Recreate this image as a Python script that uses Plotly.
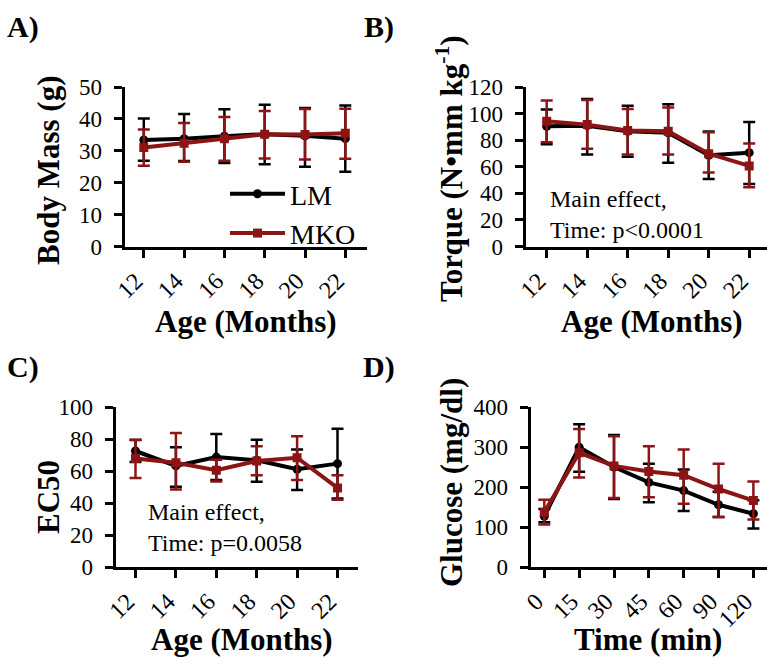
import plotly.graph_objects as go

# ---------------- data ----------------
age = ["12", "14", "16", "18", "20", "22"]
time_min = ["0", "15", "30", "45", "60", "90", "120"]

# A) Body mass (g)
bm_lm_mean = [33.4, 33.8, 34.6, 35.2, 34.7, 33.8]
bm_lm_hi = [40.1, 41.5, 43.0, 44.4, 43.4, 44.2]
bm_lm_lo = [26.9, 26.8, 26.2, 25.8, 25.0, 23.4]
bm_mko_mean = [31.0, 32.4, 33.8, 35.2, 35.1, 35.5]
bm_mko_hi = [36.7, 38.7, 40.6, 42.5, 43.1, 43.2]
bm_mko_lo = [25.3, 26.6, 26.9, 27.6, 27.3, 27.5]

# B) Torque
tq_lm_mean = [90.5, 90.9, 86.7, 85.5, 68.6, 70.6]
tq_lm_hi = [103.0, 111.0, 105.8, 107.0, 86.5, 93.7]
tq_lm_lo = [77.0, 69.3, 67.6, 63.1, 50.7, 47.0]
tq_mko_mean = [94.2, 91.7, 87.2, 86.7, 69.8, 60.6]
tq_mko_hi = [109.8, 110.3, 103.4, 104.6, 86.0, 77.5]
tq_mko_lo = [78.5, 73.5, 69.3, 69.3, 55.7, 44.5]

# C) EC50
ec_lm_mean = [72.5, 63.2, 68.7, 66.7, 61.1, 64.6]
ec_lm_hi = [79.3, 74.9, 83.1, 79.6, 73.5, 86.4]
ec_lm_lo = [65.7, 50.2, 54.3, 53.3, 48.1, 42.8]
ec_mko_mean = [67.8, 65.2, 60.5, 66.3, 68.3, 49.4]
ec_mko_hi = [79.6, 83.7, 67.0, 75.5, 81.7, 57.4]
ec_mko_lo = [55.6, 48.4, 53.5, 57.4, 54.3, 42.0]

# D) Glucose
gl_lm_mean = [127, 299.6, 250, 211.5, 191, 155.6, 133]
gl_lm_hi = [145, 357, 330, 258.4, 244, 188, 167]
gl_lm_lo = [112, 238, 170, 162, 140, 125, 96]
gl_mko_mean = [137, 285.6, 252.7, 238.7, 229.6, 195, 166]
gl_mko_hi = [168, 345, 326.7, 302, 293.8, 258.4, 214]
gl_mko_lo = [106, 224, 172.8, 174.5, 158, 125, 118.5]

# ---------------- style ----------------
W, H = 767, 659
BLACK = "#000000"
RED = "#8C1414"
FONT = "Liberation Serif, Times New Roman, serif"

fig = go.Figure()


def add_pair(xcats, lm, lm_hi, lm_lo, mko, mko_hi, mko_lo, xa, ya, legend):
    for name, mean, hi, lo, col, sym in [
        ("LM", lm, lm_hi, lm_lo, BLACK, "circle"),
        ("MKO", mko, mko_hi, mko_lo, RED, "square"),
    ]:
        fig.add_trace(go.Scatter(
            x=xcats, y=mean, name=name, mode="lines+markers",
            xaxis=xa, yaxis=ya, showlegend=legend,
            line=dict(color=col, width=4),
            marker=dict(color=col, symbol=sym, size=9),
            error_y=dict(type="data", symmetric=False,
                         array=[h - m for h, m in zip(hi, mean)],
                         arrayminus=[m - l for m, l in zip(mean, lo)],
                         color=col, thickness=2.5, width=6),
        ))


add_pair(age, bm_lm_mean, bm_lm_hi, bm_lm_lo, bm_mko_mean, bm_mko_hi, bm_mko_lo, "x", "y", True)
add_pair(age, tq_lm_mean, tq_lm_hi, tq_lm_lo, tq_mko_mean, tq_mko_hi, tq_mko_lo, "x2", "y2", False)
add_pair(age, ec_lm_mean, ec_lm_hi, ec_lm_lo, ec_mko_mean, ec_mko_hi, ec_mko_lo, "x3", "y3", False)
add_pair(time_min, gl_lm_mean, gl_lm_hi, gl_lm_lo, gl_mko_mean, gl_mko_hi, gl_mko_lo, "x4", "y4", False)


def xaxis_cfg(L, R, t0, s, anchor):
    left = L + 1.5
    return dict(
        domain=[left / W, min(R / W, 1.0)],
        range=[(left - t0) / s, (R - t0) / s],
        type="category", anchor=anchor, automargin=False,
        showline=True, linecolor="black", linewidth=3,
        ticks="outside", ticklen=8, tickwidth=3, tickcolor="black",
        tickangle=-45, ticklabelshift=-8,
        showgrid=False, zeroline=False,
        tickfont=dict(family=FONT, size=24, color="black"),
    )


def yaxis_cfg(top, bottom, rmax, dtick, anchor):
    return dict(
        domain=[(H - bottom) / H, (H - top) / H],
        range=[0, rmax], dtick=dtick, anchor=anchor, automargin=False,
        showline=True, linecolor="black", linewidth=3,
        ticks="outside", ticklen=8, tickwidth=3, tickcolor="black",
        ticklabelstandoff=7,
        showgrid=False, zeroline=False,
        tickfont=dict(family=FONT, size=23, color="black"),
    )


fig.update_layout(
    xaxis=xaxis_cfg(123, 367, 143.8, 40.3, "y"),
    yaxis=yaxis_cfg(87, 246.5, 50, 10, "x"),
    xaxis2=xaxis_cfg(524, 767, 546.7, 40.5, "y2"),
    yaxis2=yaxis_cfg(87, 246.5, 120, 20, "x2"),
    xaxis3=xaxis_cfg(114, 358, 135.5, 40.4, "y3"),
    yaxis3=yaxis_cfg(407, 567, 100, 20, "x3"),
    xaxis4=xaxis_cfg(529, 767, 544.3, 34.85, "y4"),
    yaxis4=yaxis_cfg(407, 567, 400, 100, "x4"),
)


def ann(text, x, y, size, bold=False, angle=0, xanchor="center", align="center"):
    fig.add_annotation(
        text=text, x=x / W, y=(H - y) / H, xref="paper", yref="paper",
        showarrow=False, textangle=angle, xanchor=xanchor, yanchor="middle",
        align=align,
        font=dict(family=FONT, size=size, color="black",
                  weight="bold" if bold else "normal"),
    )


# panel labels
ann("A)", 23, 27, 30, bold=True)
ann("B)", 379, 27, 30, bold=True)
ann("C)", 23, 367, 30, bold=True)
ann("D)", 379, 367, 30, bold=True)

# y-axis titles
ann("Body Mass (g)", 48, 171, 31, bold=True, angle=-90)
ann("Torque (N•mm kg<sup>-1</sup>)", 449, 169, 31, bold=True, angle=-90)
ann("EC50", 48, 497, 31, bold=True, angle=-90)
ann("Glucose (mg/dl)", 451, 483, 31, bold=True, angle=-90)

# x-axis titles
ann("Age (Months)", 246, 321, 31, bold=True)
ann("Age (Months)", 652, 321, 31, bold=True)
ann("Age (Months)", 242, 639, 31, bold=True)
ann("Time (min)", 648, 639, 31, bold=True)

# stats notes
ann("Main effect,<br>Time: p&lt;0.0001", 548, 215, 24, xanchor="left", align="left")
ann("Main effect,<br>Time: p=0.0058", 146, 527, 24, xanchor="left", align="left")

fig.update_layout(
    template="none",
    width=W, height=H,
    margin=dict(l=0, r=0, t=0, b=0, pad=0),
    paper_bgcolor="white", plot_bgcolor="white",
    showlegend=True,
    legend=dict(
        x=225 / W, y=(H - 169) / H, xanchor="left", yanchor="top",
        bgcolor="rgba(0,0,0,0)", itemwidth=55,
        font=dict(family=FONT, size=28, color="black"),
        tracegroupgap=0,
    ),
)

fig.write_html(
    "out.html",
    config={"displayModeBar": False},
    post_script="document.body.style.margin='0';document.body.style.overflow='hidden';",
)
